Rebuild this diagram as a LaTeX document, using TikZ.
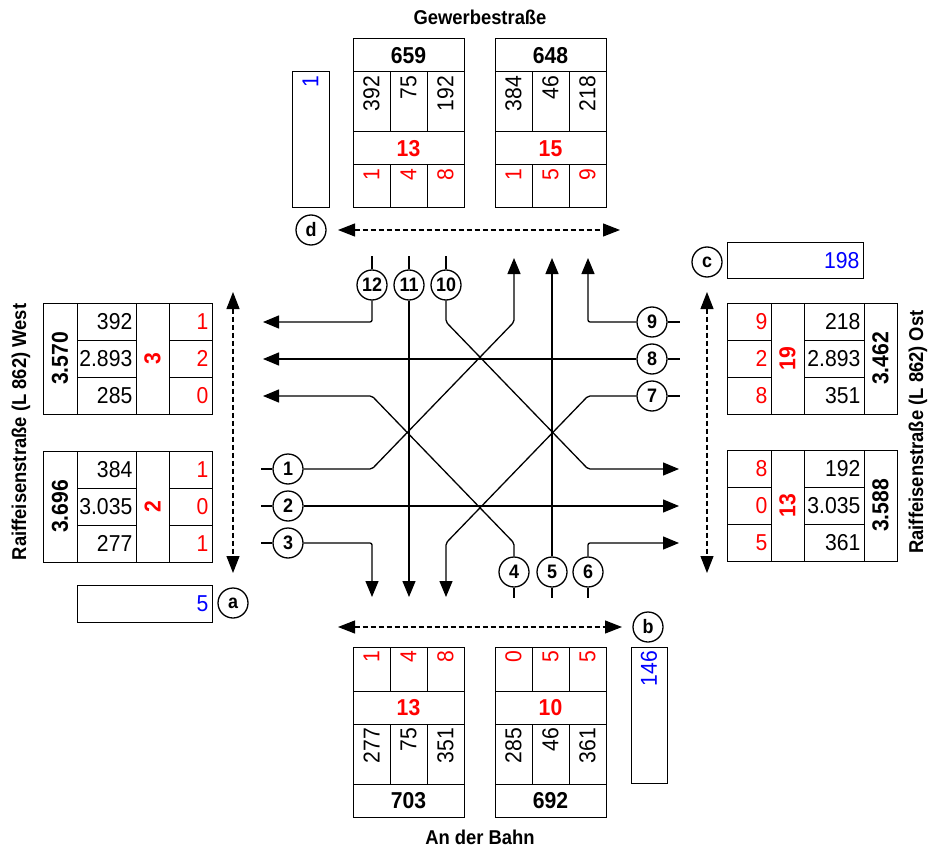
\documentclass[tikz,border=0pt]{standalone}
\usepackage{fontspec}
\setmainfont{Liberation Sans}[FakeStretch=0.92]
\usetikzlibrary{arrows.meta}

\begin{document}
\begin{tikzpicture}[x=1pt,y=-1pt,
  box/.style={draw,line width=1pt},
  num/.style={inner sep=0.5pt,font=\fontsize{23}{23}\selectfont},
  tot/.style={inner sep=0.5pt,font=\bfseries\fontsize{23}{23}\selectfont},
  street/.style={inner sep=0pt,font=\bfseries\fontsize{20}{20}\selectfont},
  circ/.style={circle,draw,line width=1.3pt,minimum size=30pt,inner sep=0pt,
    font=\bfseries\fontsize{19.5}{19.5}\selectfont},
  stub/.style={line width=1.3pt},
  flow/.style={line width=1.3pt,rounded corners=2pt,-{Triangle[length=16pt,width=13pt]}},
  sect/.style={line width=1.1pt,dash pattern=on 5pt off 3pt,
    {Triangle[length=17pt,width=13pt]}-{Triangle[length=17pt,width=13pt]}}]
\useasboundingbox (0,0) rectangle (931,850);

% street names
\node[street] (gew) at (480,17) {Gewerbestraße};
\node[street] (bahn) at (480,837) {An der Bahn};
\node[street,rotate=90] (west) at (21,432) {Raiffeisenstraße (L 862) West};
\node[street,rotate=90] (ost) at (918,432) {Raiffeisenstraße (L 862) Ost};

% west tables
\foreach \yt/\tot/\rt/\va/\vb/\vc/\ra/\rb/\rc in
  {303/3.570/3/392/2.893/285/1/2/0,451/3.696/2/384/3.035/277/1/0/1}{
  \draw[box] (43,\yt) rectangle ++(34,111);
  \draw[box] (136,\yt) rectangle ++(33,111);
  \node[tot,rotate=90] (wt\yt) at (60,\yt+55.5) {\tot};
  \node[tot,red,rotate=90] (wr\yt) at (152.5,\yt+55.5) {\rt};
  \foreach \v/\rv [count=\k from 0] in {\va/\ra,\vb/\rb,\vc/\rc}{
    \draw[box] (77,\yt+37*\k) rectangle ++(59,37);
    \draw[box] (169,\yt+37*\k) rectangle ++(43,37);
    \node[num,anchor=east] (wv\yt-\k) at (133,\yt+37*\k+18.5) {\v};
    \node[num,red,anchor=east] (wrv\yt-\k) at (209,\yt+37*\k+18.5) {\rv};
  }
}

% east tables
\foreach \yt/\tot/\rt/\va/\vb/\vc/\ra/\rb/\rc in
  {303/3.462/19/218/2.893/351/9/2/8,450/3.588/13/192/3.035/361/8/0/5}{
  \draw[box] (771,\yt) rectangle ++(33,111);
  \draw[box] (864,\yt) rectangle ++(33,111);
  \node[tot,red,rotate=90] (or\yt) at (787.5,\yt+55.5) {\rt};
  \node[tot,rotate=90] (ot\yt) at (880.5,\yt+55.5) {\tot};
  \foreach \v/\rv [count=\k from 0] in {\va/\ra,\vb/\rb,\vc/\rc}{
    \draw[box] (727,\yt+37*\k) rectangle ++(44,37);
    \draw[box] (804,\yt+37*\k) rectangle ++(60,37);
    \node[num,red,anchor=east] (orv\yt-\k) at (768,\yt+37*\k+18.5) {\rv};
    \node[num,anchor=east] (ov\yt-\k) at (861,\yt+37*\k+18.5) {\v};
  }
}

% north tables
\foreach \xl/\tot/\rt/\va/\vb/\vc/\ra/\rb/\rc in
  {353/659/13/392/75/192/1/4/8,495/648/15/384/46/218/1/5/9}{
  \draw[box] (\xl,39) rectangle ++(111,33);
  \draw[box] (\xl,132) rectangle ++(111,33);
  \node[tot] (nt\xl) at (\xl+55.5,55.5) {\tot};
  \node[tot,red] (nr\xl) at (\xl+55.5,148.5) {\rt};
  \foreach \v/\rv [count=\k from 0] in {\va/\ra,\vb/\rb,\vc/\rc}{
    \draw[box] (\xl+37*\k,72) rectangle ++(37,60);
    \draw[box] (\xl+37*\k,165) rectangle ++(37,43);
    \node[num,rotate=90,anchor=east] (nv\xl-\k) at (\xl+37*\k+18.5,75) {\v};
    \node[num,red,rotate=90,anchor=east] (nrv\xl-\k) at (\xl+37*\k+18.5,168) {\rv};
  }
}

% south tables
\foreach \xl/\tot/\rt/\va/\vb/\vc/\ra/\rb/\rc in
  {353/703/13/277/75/351/1/4/8,495/692/10/285/46/361/0/5/5}{
  \draw[box] (\xl,691) rectangle ++(111,33);
  \draw[box] (\xl,784) rectangle ++(111,33);
  \node[tot,red] (sr\xl) at (\xl+55.5,707.5) {\rt};
  \node[tot] (st\xl) at (\xl+55.5,800.5) {\tot};
  \foreach \v/\rv [count=\k from 0] in {\va/\ra,\vb/\rb,\vc/\rc}{
    \draw[box] (\xl+37*\k,647) rectangle ++(37,44);
    \draw[box] (\xl+37*\k,724) rectangle ++(37,60);
    \node[num,red,rotate=90,anchor=east] (srv\xl-\k) at (\xl+37*\k+18.5,650) {\rv};
    \node[num,rotate=90,anchor=east] (sv\xl-\k) at (\xl+37*\k+18.5,727) {\v};
  }
}

% cross sections
\draw[box] (292,72) rectangle (329,208);
\node[num,blue,rotate=90,anchor=east] (dval) at (310.5,75) {1};
\draw[box] (77,585) rectangle (212,622);
\node[num,blue,anchor=east] (aval) at (209,603.5) {5};
\draw[box] (727,243) rectangle (863,278);
\node[num,blue,anchor=east] (cval) at (860,260.5) {198};
\draw[box] (631,647) rectangle (667,783);
\node[num,blue,rotate=90,anchor=east] (bval) at (649,650) {146};

\node[circ] (qa) at (233,603) {a};
\node[circ] (qb) at (648,627) {b};
\node[circ] (qc) at (707,262) {c};
\node[circ] (qd) at (311,230) {d};

\coordinate (dl) at (338,230); \coordinate (dr) at (620,230);
\coordinate (at) at (233,292); \coordinate (ab) at (233,573);
\coordinate (ct) at (707,292); \coordinate (cb) at (707,573);
\coordinate (bl) at (338,627); \coordinate (br) at (622,627);
\draw[sect] (dl) -- (dr);
\draw[sect] (at) -- (ab);
\draw[sect] (ct) -- (cb);
\draw[sect] (bl) -- (br);

% movements
\node[circ] (m1) at (288,469) {1};
\node[circ] (m2) at (288,506) {2};
\node[circ] (m3) at (288,543) {3};
\node[circ] (m4) at (514,572) {4};
\node[circ] (m5) at (552,572) {5};
\node[circ] (m6) at (588,572) {6};
\node[circ] (m7) at (652,396) {7};
\node[circ] (m8) at (652,359) {8};
\node[circ] (m9) at (652,322) {9};
\node[circ] (m10) at (446,285) {10};
\node[circ] (m11) at (409,285) {11};
\node[circ] (m12) at (372,285) {12};

\foreach \m in {1,2,3}{\draw[stub] (m\m.west) -- ++(-11,0);}
\foreach \m in {7,8,9}{\draw[stub] (m\m.east) -- ++(12,0);}
\foreach \m in {4,5,6}{\draw[stub] (m\m.south) -- ++(0,10);}
\foreach \m in {10,11,12}{\draw[stub] (m\m.north) -- ++(0,-13);}

\draw[flow] (m1.east) -- (372,469) -- (514,322) -- (514,258);
\draw[flow] (m2.east) -- (679,506);
\draw[flow] (m3.east) -- (372,543) -- (372,597);
\draw[flow] (m4.north) -- (514,543) -- (372,396) -- (263,396);
\draw[flow] (m5.north) -- (552,258);
\draw[flow] (m6.north) -- (588,543) -- (679,543);
\draw[flow] (m7.west) -- (588,396) -- (446,543) -- (446,597);
\draw[flow] (m8.west) -- (263,359);
\draw[flow] (m9.west) -- (588,322) -- (588,258);
\draw[flow] (m10.south) -- (446,322) -- (588,469) -- (679,469);
\draw[flow] (m11.south) -- (409,597);
\draw[flow] (m12.south) -- (372,322) -- (263,322);
\end{tikzpicture}
\end{document}
